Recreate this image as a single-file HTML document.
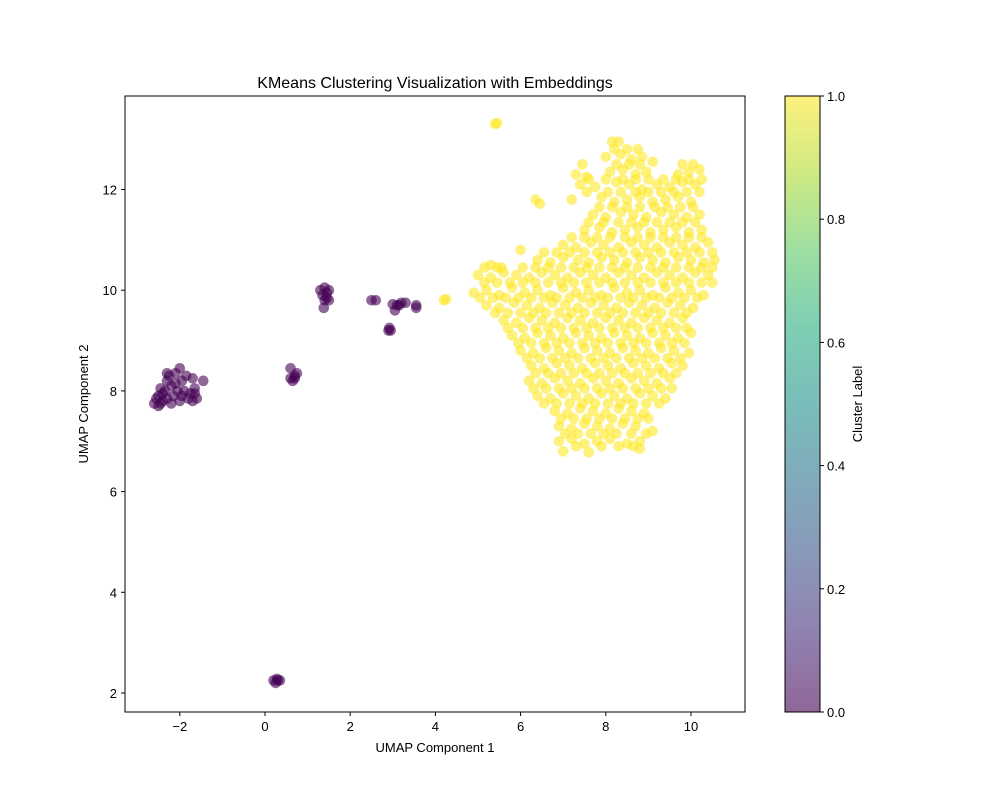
<!DOCTYPE html>
<html><head><meta charset="utf-8"><style>
body{margin:0;background:#fff;font-family:"Liberation Sans",sans-serif}
svg text{font-family:"Liberation Sans",sans-serif;fill:#000}
</style></head><body>
<svg id="chart" width="1000" height="800" viewBox="0 0 1000 800" xmlns="http://www.w3.org/2000/svg">
<defs>
<linearGradient id="viridis" x1="0" y1="1" x2="0" y2="0">
<stop offset="0" stop-color="#440154"/><stop offset="0.125" stop-color="#472d7b"/><stop offset="0.25" stop-color="#3b528b"/><stop offset="0.375" stop-color="#2c728e"/><stop offset="0.5" stop-color="#21918c"/><stop offset="0.625" stop-color="#28ae80"/><stop offset="0.75" stop-color="#5ec962"/><stop offset="0.875" stop-color="#addc30"/><stop offset="1" stop-color="#fde725"/>
</linearGradient>
<clipPath id="plotclip"><rect x="125" y="96" width="620" height="616"/></clipPath>
</defs>
<text x="435" y="88" font-size="16" text-anchor="middle">KMeans Clustering Visualization with Embeddings</text>
<g id="points" clip-path="url(#plotclip)"></g>
<rect x="125" y="96" width="620" height="616" fill="none" stroke="#000" stroke-width="1"/>
<g id="xticks"></g><g id="yticks"></g>
<text x="435" y="752" font-size="13" text-anchor="middle">UMAP Component 1</text>
<text transform="translate(88,404) rotate(-90)" font-size="13" text-anchor="middle">UMAP Component 2</text>
<rect x="785" y="96" width="35" height="616" fill="url(#viridis)" fill-opacity="0.6" stroke="#000" stroke-width="1"/>
<g id="cbticks"></g>
<text transform="translate(862,404) rotate(-90)" font-size="13" text-anchor="middle">Cluster Label</text>
</svg>
<script>
const xTickVals=[-2,0,2,4,6,8,10];
const yTickVals=[2,4,6,8,10,12];
const cbTickVals=[0.0,0.2,0.4,0.6,0.8,1.0];
const yellowX=[8.15,8.3, 8.0,8.35,8.6,8.85,9.1, 7.3,7.55,8.1,8.4,8.7,8.95,9.7,9.95,10.2, 7.4,7.75,8.25,8.55,8.85,9.2,9.5,9.8,10.1, 7.2,7.9,8.2,8.5,8.8,9.1,9.4,9.7,10.0,6.35, 6.45, 7.7,8.0,8.35,8.65,8.95,9.3,9.6,9.9,10.2, 7.5,7.85,8.15,8.45,8.75,9.05,9.35,9.65,9.95,10.25, 7.0,7.3,7.65,7.95,8.3,8.6,8.9,9.2,9.5,9.8,10.1,10.4,6.0, 5.3,5.55,6.4,6.7,7.0,7.35,7.6,7.9,8.2,8.5,8.8,9.1,9.4,9.7,10.0,10.3,10.55, 5.0,5.3,5.6,5.9,6.2,6.5,6.8,7.1,7.4,7.7,8.0,8.3,8.6,8.9,9.2,9.5,9.8,10.1,10.4, 4.9,5.2,5.5,5.8,6.1,6.4,6.7,7.0,7.3,7.6,7.9,8.2,8.5,8.8,9.1,9.4,9.7,10.0,10.3, 5.2,5.5,5.85,6.15,6.45,6.75,7.05,7.35,7.65,7.95,8.25,8.55,8.85,9.15,9.45,9.75,10.05, 5.6,5.9,6.2,6.5,6.8,7.1,7.4,7.7,8.0,8.3,8.6,8.9,9.2,9.5,9.8, 5.8,6.1,6.4,6.7,7.0,7.3,7.6,7.9,8.2,8.5,8.8,9.1,9.4,9.7,10.0, 6.0,6.3,6.6,6.9,7.2,7.5,7.8,8.1,8.4,8.7,9.0,9.3,9.6,9.95, 6.25,6.55,6.85,7.15,7.45,7.75,8.05,8.35,8.65,8.95,9.25,9.55,9.8, 6.2,6.5,6.8,7.1,7.4,7.7,8.0,8.3,8.6,8.9,9.2,9.5, 6.4,6.7,7.0,7.3,7.6,7.9,8.2,8.5,8.8,9.1,9.4, 6.8,7.1,7.4,7.7,8.0,8.3,8.6,8.9, 6.9,7.2,7.5,7.8,8.1,8.4,8.7,9.1, 6.9,7.2,7.5,7.8,8.1,8.5,8.8, 7.0,7.6,8.8, 5.4,5.45,4.2,4.25];
const yellowY=[12.95,12.95, 12.65,12.7,12.6,12.65,12.55, 12.3,12.25,12.35,12.4,12.3,12.35,12.3,12.35,12.4, 12.1,12.05,12.15,12.1,12.0,12.1,12.05,12.15,12.1, 11.8,11.85,11.75,11.8,11.85,11.75,11.8,11.85,11.75,11.8, 11.72, 11.5,11.45,11.55,11.5,11.45,11.55,11.5,11.45,11.5, 11.2,11.25,11.15,11.2,11.25,11.15,11.2,11.25,11.15,11.2, 10.9,10.85,10.95,10.9,10.85,10.95,10.9,10.85,10.95,10.9,10.85,10.95,10.8, 10.5,10.45,10.6,10.55,10.65,10.6,10.55,10.65,10.6,10.55,10.65,10.6,10.55,10.65,10.6,10.55,10.6, 10.3,10.25,10.35,10.3,10.25,10.35,10.3,10.25,10.35,10.3,10.25,10.35,10.3,10.25,10.35,10.3,10.25,10.35,10.3, 9.95,10.0,9.9,10.05,9.95,10.0,9.9,10.05,9.95,10.0,9.9,10.05,9.95,10.0,9.9,10.05,9.95,10.0,9.9, 9.7,9.65,9.75,9.7,9.65,9.75,9.7,9.65,9.75,9.7,9.65,9.75,9.7,9.65,9.75,9.7,9.65, 9.4,9.35,9.45,9.4,9.35,9.45,9.4,9.35,9.45,9.4,9.35,9.45,9.4,9.35,9.45, 9.1,9.05,9.15,9.1,9.05,9.15,9.1,9.05,9.15,9.1,9.05,9.15,9.1,9.05,9.15, 8.8,8.75,8.85,8.8,8.75,8.85,8.8,8.75,8.85,8.8,8.75,8.85,8.8,8.75, 8.5,8.45,8.55,8.5,8.45,8.55,8.5,8.45,8.55,8.5,8.45,8.55,8.5, 8.2,8.15,8.25,8.2,8.15,8.25,8.2,8.15,8.25,8.2,8.15,8.25, 7.9,7.85,7.95,7.9,7.85,7.95,7.9,7.85,7.95,7.9,7.85, 7.6,7.55,7.65,7.6,7.55,7.65,7.6,7.55, 7.3,7.25,7.35,7.3,7.25,7.35,7.3,7.2, 7.0,7.05,6.95,7.0,7.05,6.95,7.0, 6.8,6.78,6.85, 13.3,13.32,9.8,9.82];
const yellowRowY2=[12.8,12.5,12.2,11.95,11.65,11.35,11.05,10.75,10.45,10.15,9.85,9.55,9.25,8.95,8.65,8.35,8.05,7.75,7.45,7.15,6.9];
const yellowRowX2=[
[8.2,8.5,8.75],
[7.45,8.25,8.55,8.8,9.8,10.05],
[7.6,8.0,8.4,8.7,9.0,9.35,9.65,9.95,10.25],
[7.55,8.05,8.35,8.7,9.0,9.3,9.6,9.9,10.2],
[7.85,8.15,8.5,8.8,9.15,9.45,9.75,10.05],
[7.6,7.95,8.3,8.6,8.9,9.2,9.5,9.8,10.1],
[7.2,7.5,7.8,8.1,8.45,8.75,9.05,9.35,9.65,9.95,10.25],
[6.55,6.85,7.15,7.5,7.8,8.1,8.4,8.7,9.0,9.3,9.6,9.9,10.2,10.5],
[5.15,5.45,6.05,6.35,6.65,6.95,7.25,7.55,7.85,8.15,8.45,8.75,9.05,9.35,9.65,9.95,10.25,10.5],
[5.15,5.45,5.75,6.05,6.35,6.65,6.95,7.25,7.55,7.85,8.15,8.45,8.75,9.05,9.35,9.65,9.95,10.25,10.5],
[5.05,5.35,5.65,5.95,6.25,6.55,6.85,7.15,7.45,7.75,8.05,8.35,8.65,8.95,9.25,9.55,9.85,10.15],
[5.4,5.7,6.0,6.3,6.6,6.9,7.2,7.5,7.8,8.1,8.4,8.7,9.0,9.3,9.6,9.9],
[5.7,6.05,6.35,6.65,6.95,7.25,7.55,7.85,8.15,8.45,8.75,9.05,9.35,9.65,9.9],
[5.95,6.25,6.55,6.85,7.15,7.45,7.75,8.05,8.35,8.65,8.95,9.25,9.55,9.85],
[6.15,6.45,6.75,7.05,7.35,7.65,7.95,8.25,8.55,8.85,9.15,9.45,9.75],
[6.35,6.65,6.95,7.25,7.55,7.85,8.15,8.45,8.75,9.05,9.35,9.65],
[6.3,6.6,6.9,7.2,7.5,7.8,8.1,8.4,8.7,9.0,9.3,9.55],
[6.55,6.85,7.15,7.45,7.75,8.05,8.35,8.65,8.95,9.25],
[6.95,7.25,7.55,7.85,8.15,8.45,8.75,9.0],
[7.05,7.35,7.65,7.95,8.25,8.6,8.95],
[7.3,7.9,8.3,8.65]];
const purpleX=[-2.6,-2.5,-2.4,-2.5,-2.35,-2.3,-2.2,-2.25,-2.1,-2.0,-1.95,-1.9,-1.8,-1.7,-1.6,-1.65,-1.7,-1.45,-2.15,-2.0,-2.4,-2.3,-2.45,-2.05,-1.85,-2.55,-2.2,-1.75,-2.45,-2.1,-1.95,-1.65,-2.3, 0.6,0.6,0.7,0.75,0.65,0.7, 1.3,1.4,1.5,1.35,1.45,1.4,1.5,1.38,1.45, 2.5,2.6, 2.9,2.95,2.92, 3.0,3.05,3.1,3.2,3.3,3.15, 3.55,3.55, 0.2,0.25,0.3,0.35,0.28];
const purpleY=[7.75,7.7,7.8,7.9,8.0,7.85,8.1,8.3,8.35,8.45,8.2,8.0,7.85,7.8,7.85,8.05,8.25,8.2,7.9,7.8,7.95,8.35,8.05,8.0,8.3,7.85,7.75,7.95,7.75,8.15,7.9,7.95,8.2, 8.45,8.25,8.3,8.35,8.2,8.25, 10.0,10.05,10.0,9.9,9.85,9.8,9.8,9.65,9.95, 9.8,9.8, 9.2,9.2,9.25, 9.72,9.6,9.7,9.75,9.75,9.7, 9.7,9.65, 2.25,2.2,2.25,2.25,2.28];
const NS='http://www.w3.org/2000/svg';
const X=v=>265+v*42.6;
const Y=v=>693-(v-2)*50.35;
const CB=v=>712-v*616;
function mk(tag,attrs,parent){const e=document.createElementNS(NS,tag);for(const k in attrs)e.setAttribute(k,attrs[k]);parent.appendChild(e);return e;}
const pts=document.getElementById('points');
purpleX.forEach((x,i)=>{const c=mk('circle',{cx:X(x),cy:Y(purpleY[i]),r:5.3,fill:'#440154','fill-opacity':0.6},pts);

});
yellowX.forEach((x,i)=>{const c=mk('circle',{cx:X(x),cy:Y(yellowY[i]),r:5.3,fill:'#fde725','fill-opacity':0.6},pts);

});
yellowRowX2.forEach((row,ri)=>{row.forEach(x=>{const c=mk('circle',{cx:X(x),cy:Y(yellowRowY2[ri]),r:5.3,fill:'#fde725','fill-opacity':0.6},pts);

});});
const xt=document.getElementById('xticks');
xTickVals.forEach(v=>{mk('line',{x1:X(v),x2:X(v),y1:712,y2:716,stroke:'#000'},xt);
const t=mk('text',{x:X(v),y:731,'font-size':13,'text-anchor':'middle'},xt);t.textContent=v<0?'\u2212'+(-v):v;

});
const yt=document.getElementById('yticks');
yTickVals.forEach(v=>{mk('line',{x1:121,x2:125,y1:Y(v),y2:Y(v),stroke:'#000'},yt);
const t=mk('text',{x:117,y:Y(v)+5,'font-size':13,'text-anchor':'end'},yt);t.textContent=v;

});
const cb=document.getElementById('cbticks');
cbTickVals.forEach(v=>{mk('line',{x1:820,x2:824,y1:CB(v),y2:CB(v),stroke:'#000'},cb);
const t=mk('text',{x:827,y:CB(v)+5,'font-size':13},cb);t.textContent=v.toFixed(1);

});
</script>
</body></html>
